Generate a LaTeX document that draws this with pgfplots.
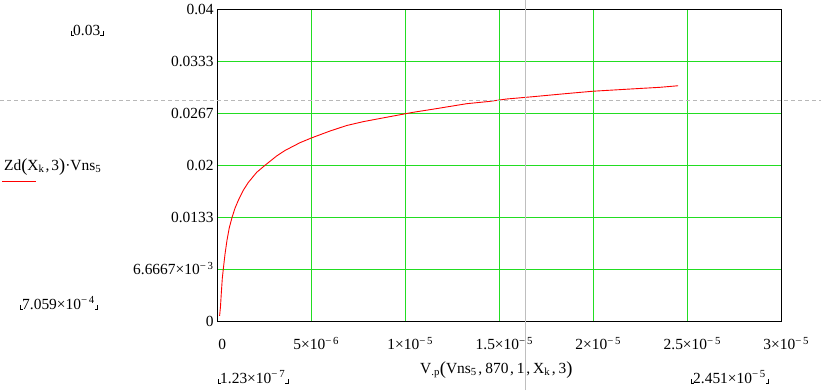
\documentclass[border=0pt]{standalone}
\usepackage{fontspec}
\setmainfont{Liberation Serif}
\usepackage{pgfplots}
\pgfplotsset{compat=1.18}
\definecolor{gridgreen}{RGB}{34,221,34}
\definecolor{cursorgray}{RGB}{190,190,190}
\newcommand\tp[1]{×10\textsuperscript{−\,#1}}
\newcommand\bp[1]{{\fontsize{18.5}{18.5}\selectfont\raisebox{-1.2bp}{#1}}}
\newcommand\cm{\hspace{1.6bp},\hspace{3bp}}
\newcommand\mclim[3]{%
  \node[anchor=base west, inner sep=0pt] (n) at (#1,#2) {#3};
  \draw[black, line width=0.6bp] ([xshift=-2bp]n.base west) ++(0,4) -- ++(0,-4) -- ++(2.5,0);
  \draw[black, line width=0.6bp] ([xshift=2.5bp]n.base east) ++(0,4) -- ++(0,-4) -- ++(-2.5,0);}
\begin{document}
\begin{tikzpicture}[x=1bp,y=1bp, font=\fontsize{15.5}{18}\selectfont]
\useasboundingbox (0,0) rectangle (821,390);
\begin{axis}[
  at={(217.3bp,68.7bp)}, anchor=south west,
  scale only axis, width=564bp, height=312bp,
  xmin=0, xmax=3e-5, ymin=0, ymax=0.04,
  xtick={0,5e-6,1e-5,1.5e-5,2e-5,2.5e-5,3e-5},
  xticklabels={0, 5\tp{6}, 1\tp{5}, 1.5\tp{5}, 2\tp{5}, 2.5\tp{5}, 3\tp{5}},
  ytick={0,0.0066667,0.0133333,0.02,0.0266667,0.0333333,0.04},
  yticklabels={0, 6.6667\tp{3}, 0.0133, 0.02, 0.0267, 0.0333, 0.04},
  scaled ticks=false,
  grid=major, major grid style={gridgreen, line width=0.8bp},
  major tick length=0pt,
  axis line style={black, line width=0.9bp},
  tick label style={font=\fontsize{15.5}{18}\selectfont},
  xticklabel style={anchor=base, inner sep=0pt, yshift=-28.2bp, xshift=5bp},
  yticklabel style={anchor=base east, inner sep=0pt, xshift=-3.5bp, yshift=-5.3bp},
]
\addplot[red, line width=0.9bp] coordinates {
(1.23e-7,0.000706) (1.7e-7,0.0019) (2.13e-7,0.0036) (2.66e-7,0.0055)
(3.19e-7,0.0067) (4.1e-7,0.0086) (5.16e-7,0.0104) (6.38e-7,0.0120)
(7.82e-7,0.0133) (9.41e-7,0.0145) (1.117e-6,0.0155) (1.383e-6,0.0168)
(1.649e-6,0.0178) (2.096e-6,0.0191) (2.537e-6,0.0200) (3.16e-6,0.0212)
(3.6e-6,0.0219) (4.4e-6,0.0229) (5.0e-6,0.0235) (6.0e-6,0.0244)
(6.88e-6,0.0251) (7.77e-6,0.0256) (8.65e-6,0.0260) (9.54e-6,0.0264)
(1.043e-5,0.0268) (1.149e-5,0.0272) (1.327e-5,0.0279) (1.451e-5,0.0282)
(1.539e-5,0.0285) (1.681e-5,0.0288) (1.859e-5,0.0292) (2.0e-5,0.0295)
(2.211e-5,0.0298) (2.355e-5,0.0300) (2.451e-5,0.0302)
};
\end{axis}
\draw[cursorgray, line width=1bp] (525.3,0) -- (525.3,390);
\draw[black!28, dash pattern=on 4bp off 3bp, line width=1bp] (0,290) -- (821,290);
\mclim{73}{355}{0.03}
\mclim{22}{81}{7.059\tp{4}}
\mclim{220}{7}{1.23\tp{7}}
\mclim{693}{7}{2.451\tp{5}}
\node[anchor=base west, inner sep=0pt] at (420,16.7)
  {V\textsubscript{.p}\bp{(}Vns\textsubscript{5}\cm 870\cm 1\cm X\textsubscript{k}\cm 3\bp{)}};
\node[anchor=base west, inner sep=0pt] at (4,220)
  {Zd\bp{(}X\textsubscript{k}\hspace{1bp},\hspace{2bp}3\bp{)}·Vns\textsubscript{5}};
\draw[red, line width=1bp] (2,208.3) -- (36,208.3);
\end{tikzpicture}
\end{document}
